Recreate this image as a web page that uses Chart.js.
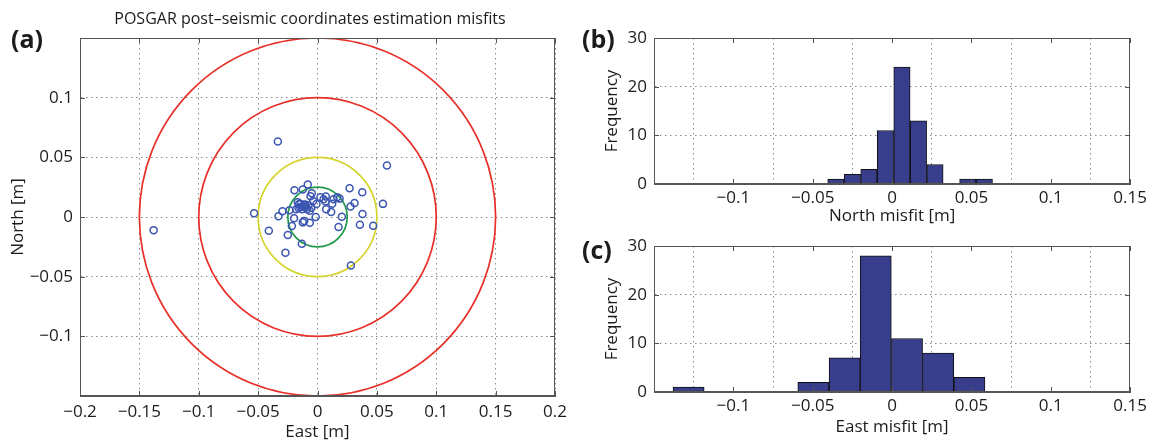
<!DOCTYPE html>
<html><head><meta charset="utf-8">
<script src="https://cdn.jsdelivr.net/npm/chart.js@4.4.0/dist/chart.umd.min.js"></script>
<style>
html,body{margin:0;padding:0;background:#fff;}
body{width:1151px;height:442px;position:relative;overflow:hidden;font-family:"Open Sans",sans-serif;color:#1c1c1c;}
canvas{position:absolute;}
.lbl{position:absolute;font-weight:bold;font-size:25px;line-height:26px;color:#1c1c1c;}
#title{position:absolute;left:60px;width:500px;top:8px;text-align:center;font-size:16px;line-height:20px;color:#1c1c1c;}
</style></head><body>
<canvas id="ca" width="580" height="442" style="left:0;top:0"></canvas>
<canvas id="cb" width="571" height="226" style="left:580px;top:0"></canvas>
<canvas id="cc" width="571" height="216" style="left:580px;top:226px"></canvas>
<div id="title">POSGAR post–seismic coordinates estimation misfits</div>
<div class="lbl" style="left:11px;top:25px">(a)</div>
<div class="lbl" style="left:582px;top:25px">(b)</div>
<div class="lbl" style="left:582px;top:236px">(c)</div>
<script>
// ---- data ----
const scatterEast = [-0.0334,0.0585,-0.0534,-0.0410,-0.0270,0.0281,-0.0132,-0.0250,-0.0216,-0.0197,
  -0.0329,-0.0295,-0.0236,-0.0194,-0.0124,-0.0082,-0.0048,-0.0059,-0.0166,-0.0141,
  -0.0110,-0.0160,-0.0129,-0.0096,-0.0051,-0.0065,-0.0124,-0.0065,-0.0112,-0.0015,
  -0.0009,0.0025,0.0070,0.0067,0.0124,0.0135,0.0186,0.0073,0.0115,0.0205,
  0.0177,0.0270,0.0377,0.0312,0.0278,0.0379,0.0357,0.0469,0.0551,-0.1380,
  -0.0146,-0.0118,-0.0087,-0.0180,-0.0104,-0.0037,-0.0076,-0.0155,0.0051,0.0166];
const scatterNorth = [0.0633,0.0431,0.0031,-0.0115,-0.0300,-0.0406,-0.0224,-0.0151,-0.0076,-0.0011,
  0.0006,0.0048,0.0056,0.0224,0.0230,0.0272,0.0199,0.0174,0.0123,0.0109,
  0.0101,0.0076,0.0064,0.0081,0.0078,0.0053,-0.0045,-0.0048,-0.0034,0.0000,
  0.0108,0.0165,0.0171,0.0129,0.0112,0.0148,0.0154,0.0064,0.0042,0.0003,
  -0.0084,0.0241,0.0207,0.0118,0.0087,0.0025,-0.0064,-0.0073,0.0110,-0.0110,
  0.0081,0.0087,0.0064,0.0064,0.0105,0.0134,0.0098,0.0109,0.0148,0.0165];
const ringRadii = [0.15, 0.10, 0.05, 0.025];

const northBinCenters = [-0.0354,-0.0250,-0.0146,-0.0042,0.0062,0.0166,0.0270,0.0374,0.0477,0.0581];
const northCounts     = [1,2,3,11,24,13,4,0,1,1];
const eastBinCenters  = [-0.1282,-0.1085,-0.0889,-0.0692,-0.0496,-0.0299,-0.0103,0.0094,0.0290,0.0487];
const eastCounts      = [1,0,0,0,2,7,28,11,8,3];

const scatterXTicks  = [-0.2,-0.15,-0.1,-0.05,0,0.05,0.1,0.15,0.2];
const scatterXLabels = ['−0.2','−0.15','−0.1','−0.05','0','0.05','0.1','0.15','0.2'];
const scatterYTicks  = [-0.15,-0.1,-0.05,0,0.05,0.1,0.15];
const scatterYLabels = ['','−0.1','−0.05','0','0.05','0.1',''];
const histXTicks  = [-0.15,-0.1,-0.05,0,0.05,0.1,0.15];
const histXLabels = ['','−0.1','−0.05','0','0.05','0.1','0.15'];
const freqTicks  = [0,10,20,30];
const freqLabels = ['0','10','20','30'];

// ---- styling ----
const FONT = {family:'"Open Sans", sans-serif', size:17};
const TXT = '#1c1c1c';
const ringColors = ['#e8302a','#e8302a','#d4d42c','#1f9a48'];

const boxPlugin = {
  id:'box',
  afterDraw(chart){
    const {ctx, chartArea:a, scales} = chart;
    ctx.save();
    ctx.strokeStyle='#555'; ctx.lineWidth=1; ctx.setLineDash([]);
    ctx.strokeRect(Math.round(a.left)+0.5, Math.round(a.top)+0.5, Math.round(a.right-a.left)-1, Math.round(a.bottom-a.top)-1);
    const L=5;
    ctx.beginPath();
    scales.x.ticks.forEach(t=>{const p=Math.round(scales.x.getPixelForValue(t.value))+0.5;
      ctx.moveTo(p,a.bottom); ctx.lineTo(p,a.bottom-L); ctx.moveTo(p,a.top); ctx.lineTo(p,a.top+L);});
    scales.y.ticks.forEach(t=>{const p=Math.round(scales.y.getPixelForValue(t.value))+0.5;
      ctx.moveTo(a.left,p); ctx.lineTo(a.left+L,p); ctx.moveTo(a.right,p); ctx.lineTo(a.right-L,p);});
    ctx.stroke();
    ctx.restore();
  }
};
const ringsPlugin = {
  id:'rings',
  beforeDatasetsDraw(chart){
    const {ctx, chartArea:a, scales:{x,y}} = chart;
    const cx=x.getPixelForValue(0), cy=y.getPixelForValue(0);
    ctx.save();
    ctx.beginPath(); ctx.rect(a.left,a.top,a.right-a.left,a.bottom-a.top); ctx.clip();
    ringRadii.forEach((r,i)=>{
      const rx=x.getPixelForValue(r)-cx, ry=cy-y.getPixelForValue(r);
      ctx.beginPath(); ctx.ellipse(cx,cy,rx,ry,0,0,Math.PI*2);
      ctx.strokeStyle=ringColors[i]; ctx.lineWidth=1.7; ctx.stroke();
    });
    ctx.restore();
  }
};

function axis(opts){
  return {
    type:'linear', min:opts.min, max:opts.max, offset:false,
    afterBuildTicks:s=>{ s.ticks = opts.ticks.map(v=>({value:v})); },
    afterFit:s=>{ if(opts.width!==undefined) s.width=opts.width; if(opts.height!==undefined) s.height=opts.height; },
    ticks:{ autoSkip:false, maxRotation:0, minRotation:0, color:TXT, font:FONT, padding:opts.tickPad,
      callback:(v,i)=>opts.labels[i] },
    grid:{ color:'#8a8a8a', lineWidth:1, drawTicks:false, tickLength:0 },
    border:{ display:true, color:'#555', width:1, dash:[1.5,3.5] },
    title:{ display:!!opts.title, text:opts.title, color:TXT, font:FONT, padding:opts.titlePad }
  };
}
Chart.defaults.animation = false;

new Chart(document.getElementById('ca'), {
  type:'scatter',
  data:{ datasets:[{ data: scatterEast.map((e,i)=>({x:e, y:scatterNorth[i]})),
    pointRadius:3.5, pointHoverRadius:3.5, borderColor:'#3b55b2', borderWidth:1.5,
    backgroundColor:'rgba(0,0,0,0)', pointBackgroundColor:'rgba(0,0,0,0)' }] },
  options:{ responsive:false, animation:false, events:[],
    layout:{ padding:{left:0, top:38, right:25, bottom:0} },
    plugins:{ legend:{display:false}, tooltip:{enabled:false} },
    scales:{
      x: axis({min:-0.2,max:0.2,ticks:scatterXTicks,labels:scatterXLabels,height:46,tickPad:6,title:'East [m]',titlePad:{top:0,bottom:0}}),
      y: axis({min:-0.15,max:0.15,ticks:scatterYTicks,labels:scatterYLabels,width:80,tickPad:7,title:'North [m]',titlePad:{top:8,bottom:0}})
    } },
  plugins:[ringsPlugin, boxPlugin]
});

function hist(id, centers, counts, xTitle, padTop, xHeight, xTitlePad){
  new Chart(document.getElementById(id), {
    type:'bar',
    data:{ datasets:[{ data: centers.map((c,i)=>({x:c, y:counts[i]})),
      backgroundColor:'#393e8c', borderColor:'#111', borderWidth:1, borderSkipped:false,
      barPercentage:1, categoryPercentage:1 }] },
    options:{ responsive:false, animation:false, events:[],
      layout:{ padding:{left:0, top:padTop, right:19, bottom:0} },
      plugins:{ legend:{display:false}, tooltip:{enabled:false} },
      scales:{
        x: axis({min:-0.15,max:0.15,ticks:histXTicks,labels:histXLabels,height:xHeight,tickPad:4,title:xTitle,titlePad:{top:0,bottom:xTitlePad}}),
        y: axis({min:0,max:30,ticks:freqTicks,labels:freqLabels,width:74,tickPad:7,title:'Frequency',titlePad:{top:22,bottom:0}})
      } },
    plugins:[boxPlugin]
  });
}
hist('cb', northBinCenters, northCounts, 'North misfit [m]', 38, 42, 0);
hist('cc', eastBinCenters, eastCounts, 'East misfit [m]', 20, 50, 5);
</script>
</body></html>
